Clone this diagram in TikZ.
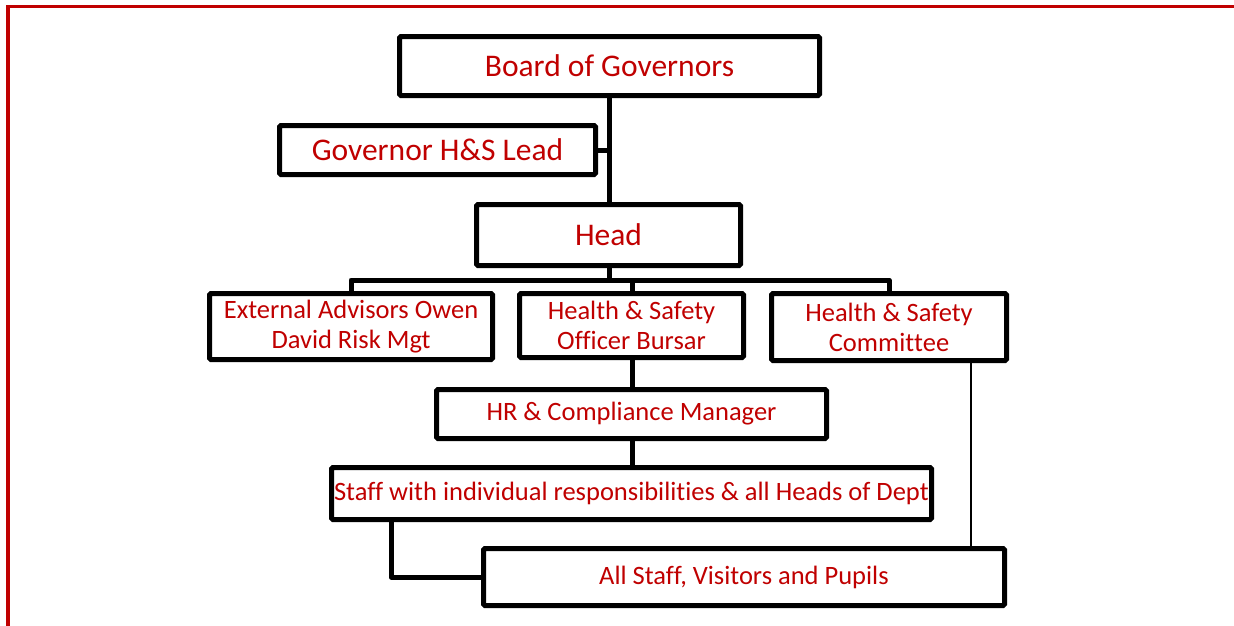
\documentclass[tikz,border=0pt]{standalone}
\usepackage{fontspec}
\setmainfont{Carlito}[Ligatures={NoCommon,NoContextual}, Contextuals={NoAlternate}]
\definecolor{orgred}{HTML}{C00000}
% zero kern that keeps two letters apart (no ligature)
\newcommand{\nolig}{\kern0pt\relax}
\begin{document}
\begin{tikzpicture}[x=1pt,y=-1pt,
  orgbox/.style={draw=black, line width=5pt, rounded corners=1.5pt, fill=white,
    inner sep=0pt, align=center, text=orgred, anchor=center},
  bigtext/.style={font=\fontsize{31.5}{36}\selectfont},
  smalltext/.style={font=\fontsize{26.5}{30}\selectfont},
  link/.style={draw=black, line width=5pt, line join=round},
  thinlink/.style={draw=black, line width=1.4pt}]
\useasboundingbox (0,0) rectangle (1234,625);
% red page frame, running off the right and bottom edges
\draw[orgred, line width=3.5pt] (8,640) -- (8,6.5) -- (1250,6.5);

% boxes
\node[orgbox, bigtext, minimum width=420pt, minimum height=59pt] (board) at (609.5,66) {Board of Governors};
\node[orgbox, bigtext, minimum width=316pt, minimum height=49pt] (lead) at (437.5,150) {Governor H\&S Lead};
\node[orgbox, bigtext, minimum width=264pt, minimum height=61pt] (head) at (608.5,235) {Head};
\node[orgbox, smalltext, minimum width=283pt, minimum height=66pt] (ext) at (351,326.5) {External Advisors Owen\\David Risk Mgt};
\node[orgbox, smalltext, minimum width=224pt, minimum height=64pt] (off) at (631.5,325.5) {Health \& Safety\\Officer Bursar};
\node[orgbox, smalltext, minimum width=235pt, minimum height=67pt] (com) at (889,327) {Health \& Safety\\Commit\nolig tee};
\node[orgbox, smalltext, minimum width=390pt, minimum height=49pt] (hr) at (631.5,414) {HR \& Compliance Manager};
\node[orgbox, smalltext, minimum width=600pt, minimum height=52pt] (staff) at (631.5,493.5) {Staff with individual responsibilit\nolig ies \& all Heads of Dept};
\node[orgbox, smalltext, minimum width=521pt, minimum height=57pt] (all) at (744,577) {All Staff, Visitors and Pupils};

% connectors
\coordinate (bus) at (0,280);
\coordinate (spine) at ([xshift=-0.5pt]board.south);
\draw[link] (spine) -- (spine |- head.north);
\draw[link] (lead.east) -- (lead.east -| spine);
\draw[link] ([xshift=1pt]head.south) -- ([xshift=1pt]head.south |- bus);
\draw[link] (ext.north) |- (bus -| com.north) -- (com.north);
\draw[link] ([xshift=1pt]off.north) -- ([xshift=1pt]off.north |- bus);
\draw[link] ([xshift=1pt]off.south) -- ([xshift=1pt]off.south |- hr.north);
\draw[link] ([xshift=1pt]hr.south) -- ([xshift=1pt]hr.south |- staff.north);
\draw[link] ([xshift=62pt]staff.south west) |- (all.west);
\draw[thinlink] ([xshift=-38pt]com.south east) -- ([xshift=-38pt]com.south east |- all.north);
\end{tikzpicture}
\end{document}
